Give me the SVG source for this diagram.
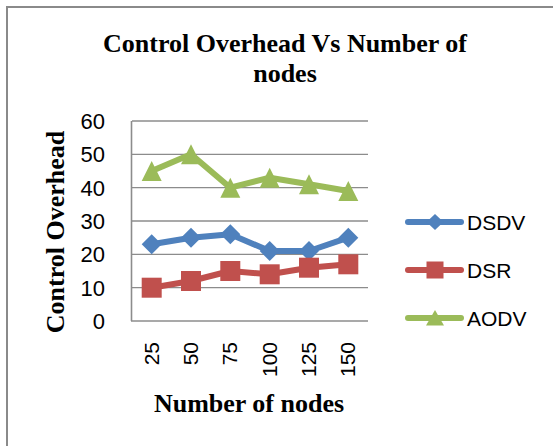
<svg xmlns="http://www.w3.org/2000/svg" xmlns:xlink="http://www.w3.org/1999/xlink" width="553" height="446" viewBox="0 0 553 446">
<style>
.title{font-family:"Liberation Serif","Times New Roman",serif;font-weight:bold;font-size:26px;fill:#000}
.tick{font-family:"Liberation Sans",Arial,sans-serif;font-size:22px;fill:#000}
.xt{font-family:"Liberation Sans",Arial,sans-serif;font-size:21px;fill:#000}
.leg{font-family:"Liberation Sans",Arial,sans-serif;font-size:21px;fill:#000}
.grid{stroke:#8c8c8c;stroke-width:1.3;fill:none}
.axis{stroke:#8c8c8c;stroke-width:1.6;fill:none}
.s1{stroke:#4F81BD;stroke-width:6;fill:none;stroke-linejoin:round;stroke-linecap:round}
.s2{stroke:#C0504D;stroke-width:6;fill:none;stroke-linejoin:round;stroke-linecap:round}
.s3{stroke:#9BBB59;stroke-width:6;fill:none;stroke-linejoin:round;stroke-linecap:round}
</style>
<defs>
<path id="dia" d="M0,-10 L10,0 L0,10 L-10,0 Z" fill="#4F81BD"/>
<rect id="sq" x="-10" y="-10" width="20" height="20" fill="#C0504D"/>
<path id="tri" d="M0,-10 L10,10 L-10,10 Z" fill="#9BBB59"/>
<path id="diaS" d="M0,-8 L8.5,0 L0,8 L-8.5,0 Z" fill="#4F81BD"/>
<rect id="sqS" x="-8.5" y="-8.5" width="17" height="17" fill="#C0504D"/>
<path id="triS" d="M0,-8 L9,7.5 L-9,7.5 Z" fill="#9BBB59"/>
</defs>
<rect x="0" y="0" width="553" height="446" fill="#fff"/>
<rect id="frame" x="7" y="7" width="560" height="460" fill="none" stroke="#8a8a8a" stroke-width="2"/>
<g id="title">
<text class="title" x="285" y="52" text-anchor="middle">Control Overhead Vs Number of</text>
<text class="title" x="285" y="82" text-anchor="middle">nodes</text>
</g>
<g id="axes">
<line class="grid" x1="132" y1="121" x2="368" y2="121"/>
<line class="grid" x1="132" y1="154.3" x2="368" y2="154.3"/>
<line class="grid" x1="132" y1="187.7" x2="368" y2="187.7"/>
<line class="grid" x1="132" y1="221" x2="368" y2="221"/>
<line class="grid" x1="132" y1="254.3" x2="368" y2="254.3"/>
<line class="grid" x1="132" y1="287.7" x2="368" y2="287.7"/>
<line class="axis" x1="131" y1="321" x2="368" y2="321"/>
<line class="axis" x1="131.5" y1="121" x2="131.5" y2="321"/>
<text class="tick" x="105" y="129" text-anchor="end">60</text>
<text class="tick" x="105" y="162.3" text-anchor="end">50</text>
<text class="tick" x="105" y="195.7" text-anchor="end">40</text>
<text class="tick" x="105" y="229" text-anchor="end">30</text>
<text class="tick" x="105" y="262.3" text-anchor="end">20</text>
<text class="tick" x="105" y="295.7" text-anchor="end">10</text>
<text class="tick" x="105" y="329" text-anchor="end">0</text>
<text class="xt" transform="translate(158.5,342) rotate(-90)" text-anchor="end">25</text>
<text class="xt" transform="translate(198,342) rotate(-90)" text-anchor="end">50</text>
<text class="xt" transform="translate(237.3,342) rotate(-90)" text-anchor="end">75</text>
<text class="xt" transform="translate(276.7,342) rotate(-90)" text-anchor="end">100</text>
<text class="xt" transform="translate(316,342) rotate(-90)" text-anchor="end">125</text>
<text class="xt" transform="translate(355.3,342) rotate(-90)" text-anchor="end">150</text>
<text class="title" transform="translate(64,232) rotate(-90)" text-anchor="middle">Control Overhead</text>
<text class="title" x="249" y="412" text-anchor="middle">Number of nodes</text>
</g>
<g id="connectors">
<polyline class="s1" points="151.7,244.3 191,237.7 230.3,234.3 269.7,251 309,251 348.3,237.7"/>
<polyline class="s2" points="151.7,287.7 191,281 230.3,271 269.7,274.3 309,267.7 348.3,264.3"/>
<polyline class="s3" points="151.7,171 191,154.3 230.3,187.7 269.7,177.7 309,184.3 348.3,191"/>
</g>
<g id="DSDV">
<use xlink:href="#dia" x="151.7" y="244.3"/>
<use xlink:href="#dia" x="191" y="237.7"/>
<use xlink:href="#dia" x="230.3" y="234.3"/>
<use xlink:href="#dia" x="269.7" y="251"/>
<use xlink:href="#dia" x="309" y="251"/>
<use xlink:href="#dia" x="348.3" y="237.7"/>
</g>
<g id="DSR">
<use xlink:href="#sq" x="151.7" y="287.7"/>
<use xlink:href="#sq" x="191" y="281"/>
<use xlink:href="#sq" x="230.3" y="271"/>
<use xlink:href="#sq" x="269.7" y="274.3"/>
<use xlink:href="#sq" x="309" y="267.7"/>
<use xlink:href="#sq" x="348.3" y="264.3"/>
</g>
<g id="AODV">
<use xlink:href="#tri" x="151.7" y="171"/>
<use xlink:href="#tri" x="191" y="154.3"/>
<use xlink:href="#tri" x="230.3" y="187.7"/>
<use xlink:href="#tri" x="269.7" y="177.7"/>
<use xlink:href="#tri" x="309" y="184.3"/>
<use xlink:href="#tri" x="348.3" y="191"/>
</g>
<g id="legend">
<line class="s1" x1="408" y1="222" x2="461" y2="222"/>
<use xlink:href="#diaS" x="435" y="222"/>
<text class="leg" x="467" y="230">DSDV</text>
<line class="s2" x1="408" y1="270" x2="461" y2="270"/>
<use xlink:href="#sqS" x="435" y="270"/>
<text class="leg" x="467" y="278">DSR</text>
<line class="s3" x1="408" y1="318" x2="461" y2="318"/>
<use xlink:href="#triS" x="435" y="318"/>
<text class="leg" x="467" y="326">AODV</text>
</g>
</svg>
